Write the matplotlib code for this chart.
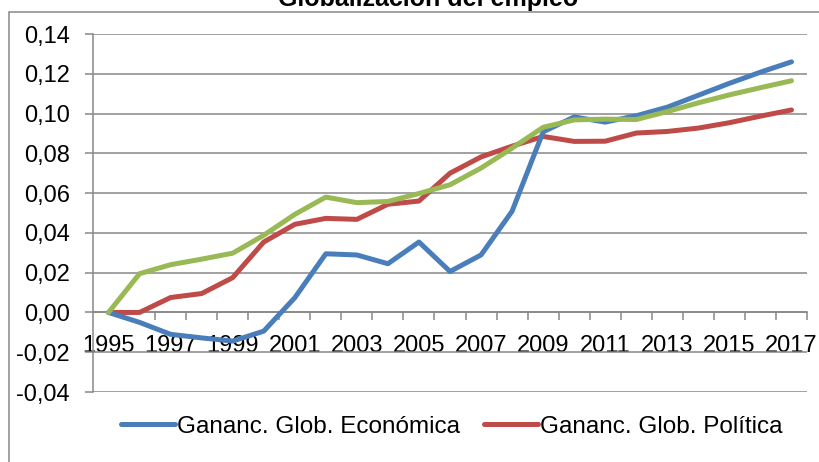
import matplotlib
matplotlib.use("Agg")
import matplotlib.pyplot as plt
from matplotlib.patches import Rectangle
from matplotlib.ticker import FixedLocator, FuncFormatter

plt.rcParams['font.family'] = ['Liberation Sans', 'DejaVu Sans']

# data
years = list(range(1995, 2018))
glob_economica = [0.0, -0.005, -0.011, -0.0128, -0.0144, -0.0094, 0.0074, 0.0295,
                  0.0289, 0.0245, 0.0354, 0.0206, 0.0289, 0.0509, 0.0908, 0.0983,
                  0.0957, 0.0989, 0.1032, 0.1092, 0.1152, 0.1208, 0.1260]
glob_politica = [0.0, 0.0, 0.0075, 0.0095, 0.0175, 0.0354, 0.0443, 0.0473,
                 0.0468, 0.0544, 0.0560, 0.0700, 0.0782, 0.0836, 0.0885, 0.0860,
                 0.0861, 0.0902, 0.0910, 0.0927, 0.0954, 0.0987, 0.1018]
glob_total = [0.0, 0.0195, 0.0240, 0.0268, 0.0298, 0.0388, 0.0493, 0.0580,
              0.0552, 0.0558, 0.0598, 0.0642, 0.0726, 0.0826, 0.0931, 0.0968,
              0.0972, 0.0970, 0.1010, 0.1054, 0.1094, 0.1130, 0.1165]
y_ticks = [-0.04, -0.02, 0.0, 0.02, 0.04, 0.06, 0.08, 0.10, 0.12, 0.14]

blue = '#4A7EBB'
red = '#BE4B48'
green = '#98B954'
grey = '#878787'

fig = plt.figure(figsize=(8.19, 4.62), dpi=100)
ax = fig.add_axes([93 / 819, 1 - 392 / 462, 714 / 819, 358 / 462])

x = list(range(len(years)))
ax.plot(x, glob_economica, color=blue, lw=3.6, label='Gananc. Glob. Económica',
        solid_joinstyle='round', solid_capstyle='round', zorder=4)
ax.plot(x, glob_politica, color=red, lw=3.6, label='Gananc. Glob. Política',
        solid_joinstyle='round', solid_capstyle='round', zorder=3)
ax.plot(x, glob_total, color=green, lw=3.6, solid_joinstyle='round',
        solid_capstyle='round', zorder=5)

ax.set_xlim(-0.5, len(years) - 0.5)
ax.set_ylim(y_ticks[0], y_ticks[-1])

# horizontal gridlines
ax.yaxis.set_major_locator(FixedLocator(y_ticks))
ax.yaxis.set_major_formatter(FuncFormatter(lambda v, p: f'{v:.2f}'.replace('.', ',')))
ax.grid(axis='y', color=grey, lw=1.1)
ax.set_axisbelow(True)

# category axis crossing at zero
ax.spines['bottom'].set_position(('data', 0))
for s in ['top', 'right']:
    ax.spines[s].set_visible(False)
for s in ['left', 'bottom']:
    ax.spines[s].set_color(grey)
    ax.spines[s].set_linewidth(1.1)

ax.set_xticks(x[::2])
ax.set_xticklabels([str(y) for y in years[::2]])
ax.set_xticks([i + 0.5 for i in range(len(years))], minor=True)
ax.tick_params(axis='x', which='major', length=0, pad=16, labelsize=17)
ax.tick_params(axis='x', which='minor', length=5.8, width=1.1, color=grey, direction='out')
ax.tick_params(axis='y', length=5.8, width=1.1, color=grey, pad=11, labelsize=17)

fig.legend(loc='center', bbox_to_anchor=(452 / 819, 1 - 427 / 462), ncol=2,
           frameon=False, fontsize=17.5, handlelength=2.2, handletextpad=0.1,
           columnspacing=1.0)

fig.text(428 / 819, 1 - 6 / 462, 'Globalización del empleo', ha='center',
         va='baseline', fontsize=18, fontweight='bold')

# chart frame (only left and top edges are in view)
fig.patches.append(Rectangle((9 / 819, -0.1), 2, 1.1 - 12 / 462, transform=fig.transFigure,
                             fill=False, edgecolor=grey, lw=1.1))

fig.savefig('out.png', dpi=100)
